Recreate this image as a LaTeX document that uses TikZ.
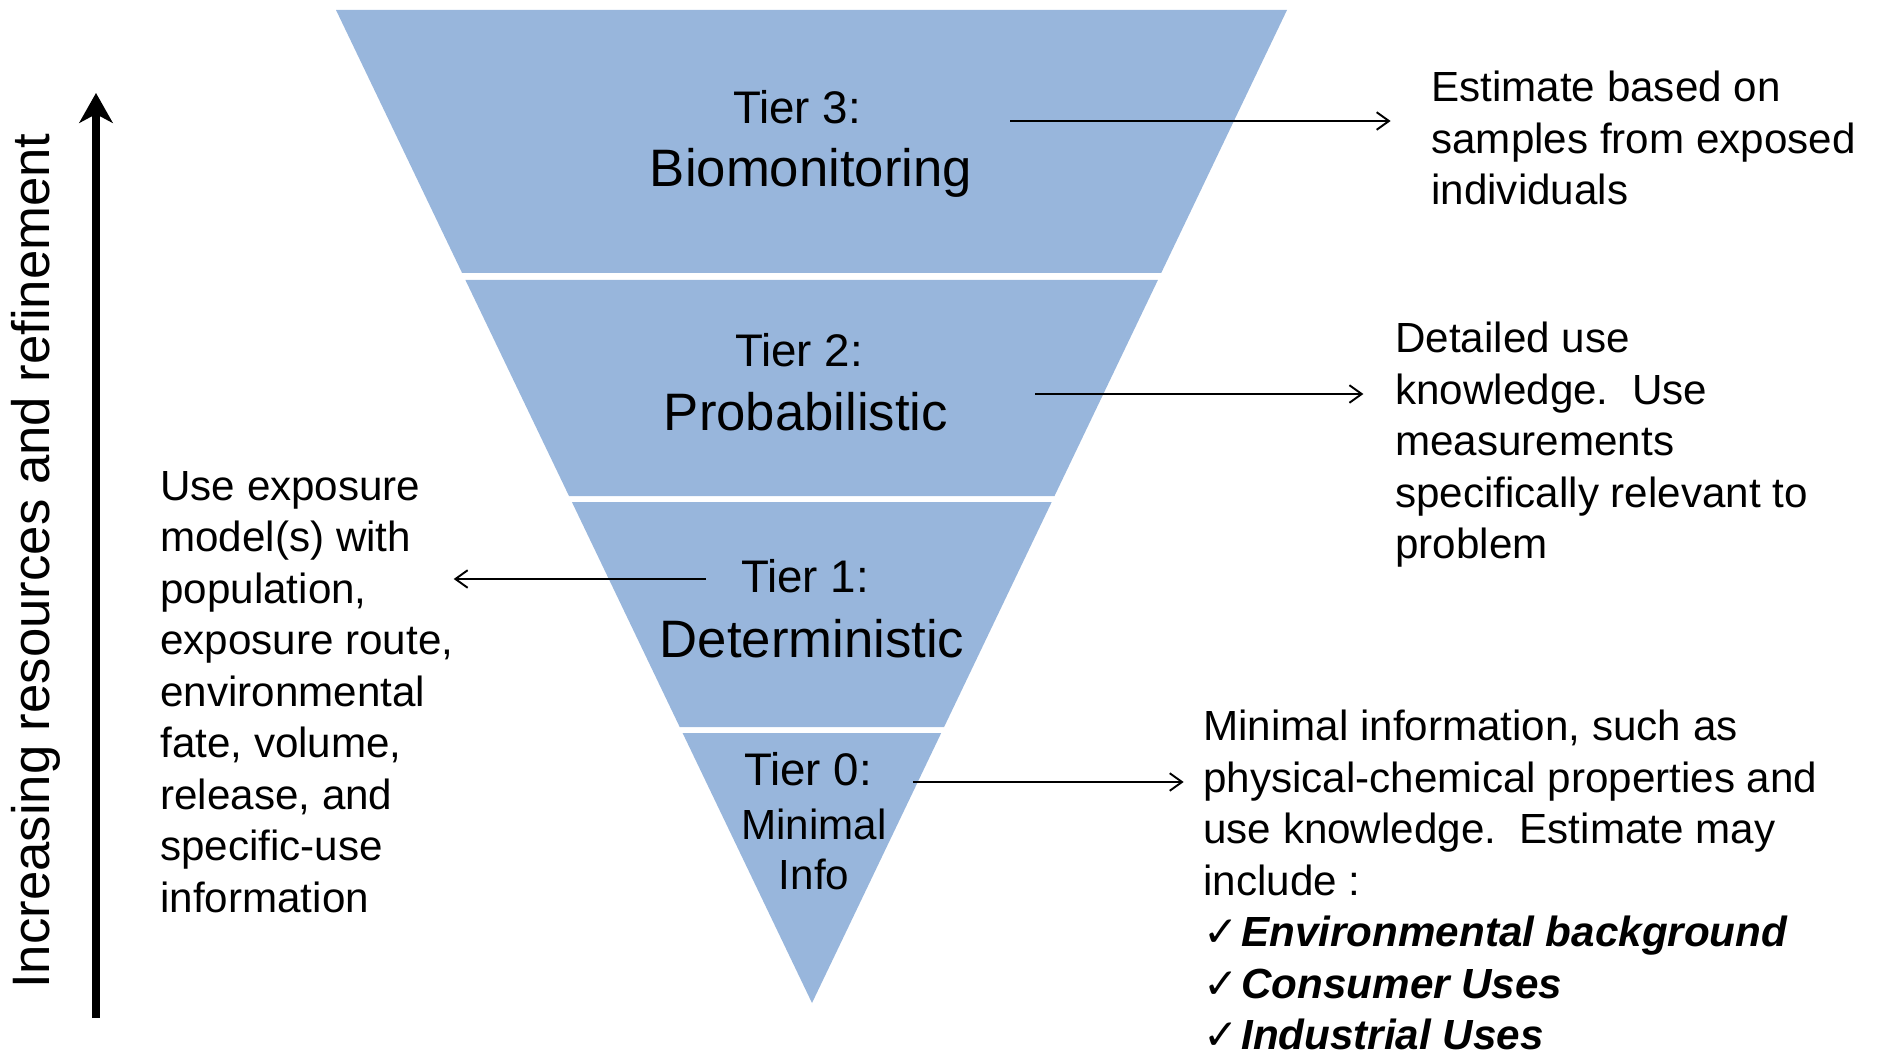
\documentclass[tikz,border=0pt]{standalone}
\usepackage{fontspec}
\setmainfont{Liberation Sans}
\newfontfamily\checkfont{DejaVu Sans}
\usetikzlibrary{arrows.meta}
\definecolor{tierblue}{RGB}{152,182,220}

\begin{document}
\begin{tikzpicture}[x=0.02cm,y=-0.02cm,
  tierlabel/.style={anchor=base,inner sep=0pt,font=\fontsize{26}{31}\selectfont},
  tiertitle/.style={anchor=base,inner sep=0pt,font=\fontsize{30}{36}\selectfont},
  tiersmall/.style={anchor=base,inner sep=0pt,font=\fontsize{24}{29}\selectfont},
  desc/.style={anchor=north west,align=left,inner sep=0pt,font=\fontsize{24}{29.3}\selectfont},
  pointer/.style={line width=1.1pt,-{Straight Barb[length=7pt,width=10pt]}}]
  \useasboundingbox (0,0) rectangle (1883,1057);
  % the funnel, cut in four tiers
  \fill[tierblue] (336,10) -- (1287,10) -- (1161.2,273) -- (462.1,273) -- cycle;
  \fill[tierblue] (465.4,280) -- (1157.9,280) -- (1054.5,496) -- (569.0,496) -- cycle;
  \fill[tierblue] (571.9,502) -- (1051.7,502) -- (944.1,727) -- (679.7,727) -- cycle;
  \fill[tierblue] (682.6,733) -- (941.2,733) -- (812,1003) -- cycle;
  % tier names
  \node[tierlabel] (tier3) at (797,124) {Tier 3:};
  \node[tiertitle] (tier3b) at (811,187) {Biomonitoring};
  \node[tierlabel] (tier2) at (799,367) {Tier 2:};
  \node[tiertitle] (tier2b) at (806,431) {Probabilistic};
  \node[tierlabel] (tier1) at (805,592) {Tier 1:};
  \node[tiertitle] (tier1b) at (812,657) {Deterministic};
  \node[tierlabel] (tier0) at (808,785) {Tier 0:};
  \node[tiersmall] (tier0b) at (814,839) {Minimal};
  \node[tiersmall] (tier0c) at (814,889) {Info};
  % what each tier uses
  \node[desc] (desc3) at (1431,71) {Estimate based on\\samples from exposed\\individuals};
  \node[desc] (desc2) at (1395,322) {Detailed use\\knowledge.\ \ Use\\measurements\\specifically relevant to\\problem};
  \node[desc] (desc1) at (160,471) {Use exposure\\model(s) with\\population,\\exposure route,\\environmental\\fate, volume,\\release, and\\specific-use\\information};
  \node[desc] (desc0) at (1203,710) {Minimal information, such as\\physical-chemical properties and\\use knowledge.\ \ Estimate may\\include :\\
    {\checkfont ✓}\hspace{1.5pt}\textbf{\textit{Environmental background}}\\
    {\checkfont ✓}\hspace{1.5pt}\textbf{\textit{Consumer Uses}}\\
    {\checkfont ✓}\hspace{1.5pt}\textbf{\textit{Industrial Uses}}};
  % pointers
  \coordinate (t3from) at (1010,121);
  \coordinate (t2from) at (1035,394);
  \coordinate (t1from) at (706,579);
  \coordinate (t0from) at (913,782);
  \draw[pointer,shorten >=23pt] (t3from) -- (t3from -| desc3.west);
  \draw[pointer,shorten >=18pt] (t2from) -- (t2from -| desc2.west);
  \draw[pointer] (t1from) -- (t1from -| desc1.east);
  \draw[pointer,shorten >=11pt] (t0from) -- (t0from -| desc0.west);
  % side arrow
  \coordinate (axisfoot) at (96,1018);
  \coordinate (axistop) at (96,93);
  \draw[line width=4.5pt,-{Stealth[length=17pt,width=19pt,inset=5pt]}] (axisfoot) -- (axistop);
  \node[rotate=90,inner sep=0pt,font=\fontsize{30}{36}\selectfont] (axislabel) at (36,561) {Increasing resources and refinement};
\end{tikzpicture}
\end{document}
